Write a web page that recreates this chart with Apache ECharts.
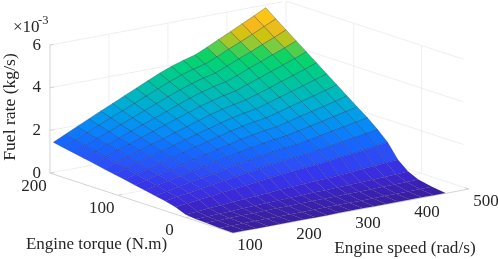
<!DOCTYPE html>
<html><head><meta charset="utf-8">
<style>html,body{margin:0;padding:0;background:#fff}#c{width:498px;height:259px}</style>
<script src="https://cdn.jsdelivr.net/npm/echarts@6/dist/echarts.min.js"></script>
</head><body><div id="c"></div>
<script>
const speedValues=[100,120,140,160,180,200,220,240,260,280,300,320,340,360,380,400,420,440,460];
const torqueValues=[-70,-50,-30,-15,0,15,30,45,60,75,90,105,120,135,150,165,180,195];
const fuelRate=[
[.01,.01,.01,.01,.01,.01,.01,.01,.01,.02,.02,.02,.02,.02,.02,.02,.02,.02,.02],
[.03,.03,.04,.04,.05,.05,.05,.06,.06,.07,.07,.07,.07,.08,.08,.09,.09,.10,.10],
[.06,.07,.08,.09,.10,.11,.12,.13,.14,.15,.16,.16,.17,.18,.19,.20,.21,.22,.23],
[.08,.10,.12,.14,.17,.19,.21,.23,.25,.27,.29,.30,.32,.34,.36,.38,.40,.43,.45],
[.14,.18,.22,.26,.31,.35,.39,.43,.47,.51,.54,.57,.59,.63,.68,.72,.76,.81,.85],
[.33,.40,.47,.53,.60,.67,.74,.80,.87,.93,.99,1.04,1.08,1.15,1.22,1.28,1.35,1.43,1.50],
[.46,.55,.63,.72,.81,.89,.98,1.06,1.15,1.23,1.30,1.36,1.41,1.50,1.59,1.68,1.77,1.86,1.95],
[.55,.65,.76,.87,.97,1.07,1.18,1.28,1.38,1.48,1.57,1.64,1.70,1.80,1.91,2.02,2.13,2.24,2.35],
[.65,.77,.89,1.01,1.13,1.24,1.36,1.48,1.60,1.71,1.81,1.89,1.96,2.08,2.20,2.32,2.45,2.57,2.70],
[.74,.87,1.01,1.15,1.28,1.41,1.55,1.68,1.81,1.94,2.05,2.15,2.22,2.36,2.50,2.63,2.77,2.91,3.06],
[.84,.99,1.14,1.29,1.44,1.59,1.74,1.88,2.03,2.17,2.30,2.41,2.49,2.64,2.80,2.95,3.10,3.26,3.42],
[.93,1.10,1.26,1.43,1.60,1.76,1.92,2.08,2.24,2.40,2.54,2.66,2.75,2.92,3.09,3.26,3.43,3.60,3.78],
[1.02,1.20,1.39,1.57,1.75,1.92,2.11,2.28,2.46,2.63,2.79,2.91,3.02,3.19,3.37,3.57,3.75,3.94,4.14],
[1.12,1.32,1.52,1.71,1.91,2.10,2.30,2.49,2.68,2.87,3.03,3.17,3.28,3.48,3.68,3.88,4.08,4.29,4.50],
[1.21,1.42,1.64,1.85,2.06,2.27,2.48,2.68,2.89,3.10,3.28,3.43,3.55,3.75,3.98,4.19,4.41,4.63,4.86],
[1.31,1.54,1.77,1.99,2.22,2.44,2.67,2.89,3.11,3.33,3.52,3.68,3.81,4.04,4.27,4.50,4.74,4.97,5.22],
[1.40,1.64,1.89,2.13,2.38,2.61,2.85,3.09,3.33,3.56,3.77,3.94,4.08,4.31,4.57,4.81,5.06,5.32,5.58],
[1.50,1.76,2.02,2.28,2.54,2.79,3.05,3.30,3.55,3.80,4.02,4.20,4.35,4.60,4.87,5.13,5.40,5.67,5.95]
];
const speedTicks=[100,200,300,400,500];
const torqueTicks=[0,100,200];
const fuelTicks=[0,2,4,6];
const colorStops=[[0,'#3a1f9a'],[.15,'#3a20b4'],[.4,'#3b27d4'],[.8,'#3636ee'],[1.2,'#2a52fa'],[1.6,'#1468ff'],[2,'#0a84fb'],[2.5,'#00a0e8'],[3,'#00b4c8'],[3.5,'#00c4a0'],[4,'#00d080'],[4.4,'#10d460'],[4.7,'#80cc40'],[5,'#cac410'],[5.4,'#fab820'],[6,'#ffd600']];

const SMIN=100,SMAX=500,TMIN=-70,TMAX=200;
function proj(s,t,z){return [233+(s-SMIN)*.59-(t-TMIN)*.678, 233-(s-SMIN)*.11-(t-TMIN)*.222-z*21.33];}
function hex(c){return [1,3,5].map(i=>parseInt(c.slice(i,i+2),16));}
function colorOf(z){
  for(let i=1;i<colorStops.length;i++){
    if(z<=colorStops[i][0]){
      const a=colorStops[i-1],b=colorStops[i],f=(z-a[0])/(b[0]-a[0]),x=hex(a[1]),y=hex(b[1]);
      return 'rgb('+x.map((v,k)=>Math.round(v+(y[k]-v)*f)).join(',')+')';
    }
  }
  return colorStops[colorStops.length-1][1];
}
const quads=[];
for(let j=torqueValues.length-2;j>=0;j--)for(let i=speedValues.length-2;i>=0;i--){
  quads.push([speedValues[i],speedValues[i+1],torqueValues[j],torqueValues[j+1],fuelRate[j][i],fuelRate[j][i+1],fuelRate[j+1][i+1],fuelRate[j+1][i]]);
}
const wallColor='#efefef',axisColor='#d4d4d4';
const segs=[];
function seg(a,b,c){segs.push([a[0],a[1],a[2],b[0],b[1],b[2],c]);}
fuelTicks.forEach(z=>{ if(z>0){seg([SMIN,TMAX,z],[SMAX-6,TMAX,z],0);seg([SMAX,TMAX,z],[SMAX,TMIN+8,z],0);} });
speedTicks.forEach(s=>{ if(s>SMIN&&s<SMAX){seg([s,TMAX,0],[s,TMAX,6],0);seg([s,TMAX,0],[s,TMIN,0],0);} });
torqueTicks.forEach(t=>{ if(t<TMAX){seg([SMAX,t,0],[SMAX,t,6],0);seg([SMAX,t,0],[SMIN,t,0],0);} });
seg([SMAX,TMAX,0],[SMAX,TMAX,6],0);
seg([SMIN,TMAX,0],[SMAX,TMAX,0],0);seg([SMAX,TMAX,0],[SMAX,TMIN,0],0);
seg([SMIN,TMAX,0],[SMIN,TMAX,6],1);
seg([SMIN,TMIN,0],[SMIN,TMAX,0],1);seg([SMIN,TMIN,0],[SMAX,TMIN,0],1);
fuelTicks.forEach(z=>seg([SMIN,TMAX,z],[SMIN+7,TMAX,z],1));
speedTicks.forEach(s=>seg([s,TMIN,0],[s,TMIN+6,0],1));
torqueTicks.forEach(t=>seg([SMIN,t,0],[SMIN+7,t,0],1));

const FONT='"Liberation Serif","Times New Roman",serif',TXT='#262626';
const labels=[];
fuelTicks.forEach(z=>{const p=proj(SMIN,TMAX,z);labels.push([p[0]-9,p[1],String(z),'right',17,0]);});
torqueTicks.forEach(t=>{const p=proj(SMIN,t,0);labels.push([p[0]-16,p[1]+13,String(t),'center',17,0]);});
speedTicks.forEach(s=>{const p=proj(s,TMIN,0);labels.push([p[0]+17,p[1]+13,String(s),'center',17,0]);});
labels.push([96.5,245,'Engine torque (N.m)','center',17,0]);
labels.push([405,248,'Engine speed (rad/s)','center',17.2,0]);
labels.push([10,107,'Fuel rate (kg/s)','center',17.6,Math.PI/2]);
labels.push([13,28,'×10','left',17,0]);
labels.push([38,21,'-3','left',12.5,0]);

const chart=echarts.init(document.getElementById('c'),null,{renderer:'canvas'});
chart.setOption({
  animation:false,
  grid:{left:0,right:0,top:0,bottom:0},
  xAxis:{type:'value',min:0,max:498,show:false},
  yAxis:{type:'value',min:0,max:259,inverse:true,show:false},
  series:[
  {type:'custom',clip:false,silent:true,z:1,data:segs,encode:{x:0,y:1},
   renderItem(p,api){
    const a=api.coord(proj(api.value(0),api.value(1),api.value(2))),b=api.coord(proj(api.value(3),api.value(4),api.value(5)));
    return {type:'line',shape:{x1:a[0],y1:a[1],x2:b[0],y2:b[1]},style:{stroke:api.value(6)?axisColor:wallColor,lineWidth:1,fill:null}};
   }},
  {type:'custom',clip:false,silent:true,z:2,data:quads,encode:{x:0,y:2},
   renderItem(p,api){
    const v=i=>api.value(i),s0=v(0),s1=v(1),t0=v(2),t1=v(3),z=[v(4),v(5),v(6),v(7)];
    const pts=[proj(s0,t0,z[0]),proj(s1,t0,z[1]),proj(s1,t1,z[2]),proj(s0,t1,z[3])].map(q=>api.coord(q));
    const m=(z[0]+z[1]+z[2]+z[3])/4,al=Math.min(.42,.14+m*.14);
    return {type:'polygon',shape:{points:pts},style:{fill:colorOf(m),stroke:'rgba(20,30,60,'+al+')',lineWidth:.7}};
   }},
  {type:'custom',clip:false,silent:true,z:3,data:labels,encode:{x:0,y:1},
   renderItem(p,api){
    const c=api.coord([api.value(0),api.value(1)]),l=labels[p.dataIndex];
    return {type:'text',x:c[0],y:c[1],rotation:l[5],style:{text:l[2],font:l[4]+'px '+FONT,fill:TXT,align:l[3],verticalAlign:'middle'}};
   }}
  ]
});
</script></body></html>
